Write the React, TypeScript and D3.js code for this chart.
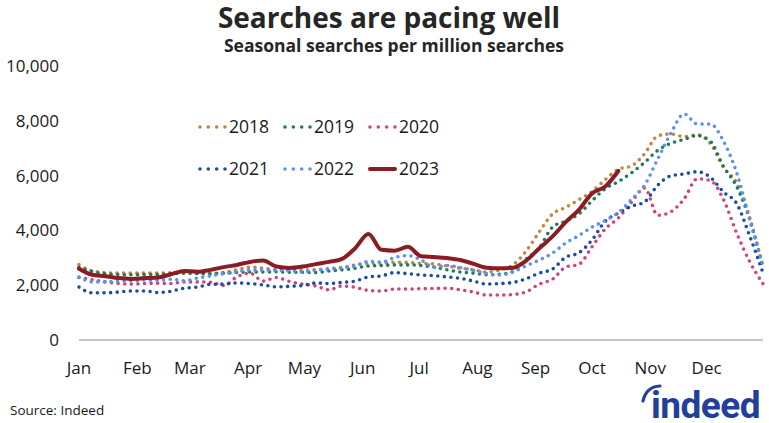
import * as React from 'react'
import * as d3 from 'd3'

// weekly values (seasonal searches per million searches), week i = day 7*i of the year
const weeks = d3.range(53)

const y2018 = [2750, 2520, 2460, 2440, 2440, 2440, 2440, 2450, 2450, 2430, 2430, 2460, 2560, 2660, 2620, 2560, 2540, 2550, 2560, 2600, 2650, 2740, 2800, 2800, 2840, 2830, 2800, 2780, 2700, 2620, 2560, 2480, 2560, 2750, 3250, 3950, 4600, 4840, 5120, 5420, 5850, 6230, 6350, 6800, 7450, 7520, 7420, 7490, 7170, 6300, 5730, 4450, 2650]
const y2019 = [2650, 2500, 2420, 2390, 2380, 2390, 2390, 2420, 2440, 2430, 2420, 2440, 2460, 2480, 2480, 2490, 2470, 2470, 2460, 2520, 2560, 2620, 2700, 2720, 2740, 2740, 2720, 2660, 2560, 2480, 2440, 2380, 2400, 2500, 2950, 3380, 4120, 4340, 4600, 5080, 5520, 5780, 6100, 6480, 6920, 7180, 7320, 7460, 7250, 6330, 5600, 4380, 2600]
const y2020 = [2280, 2200, 2120, 2060, 2040, 2060, 2070, 2060, 2120, 2120, 2110, 1990, 2300, 2440, 2150, 2280, 2140, 2040, 1970, 1830, 1970, 1920, 1810, 1790, 1860, 1860, 1870, 1880, 1890, 1830, 1750, 1640, 1640, 1660, 1760, 2040, 2220, 2660, 2760, 3400, 4050, 4450, 5030, 5550, 4550, 4680, 5150, 5880, 5820, 5120, 3900, 2850, 2050]
const y2021 = [1930, 1720, 1720, 1750, 1790, 1790, 1730, 1780, 1890, 1930, 2030, 2040, 2080, 2060, 2010, 1940, 1960, 1990, 2080, 2060, 2100, 2150, 2300, 2340, 2460, 2420, 2370, 2350, 2300, 2250, 2150, 2040, 2060, 2100, 2240, 2440, 2590, 3020, 3180, 3650, 4330, 4630, 4880, 5040, 5650, 5990, 6060, 6140, 5940, 5400, 4980, 3780, 2450]
const y2022 = [2300, 2120, 2120, 2150, 2160, 2190, 2170, 2220, 2160, 2260, 2340, 2420, 2490, 2550, 2550, 2550, 2530, 2480, 2550, 2590, 2630, 2700, 2870, 2840, 3010, 3080, 2920, 2650, 2720, 2640, 2540, 2420, 2370, 2480, 2710, 2920, 3170, 3540, 3810, 4120, 4360, 4650, 5130, 5650, 6610, 7550, 8250, 7880, 7880, 7250, 6100, 4380, 2700]
const y2023 = [2600, 2380, 2330, 2260, 2230, 2260, 2280, 2400, 2520, 2490, 2560, 2660, 2740, 2850, 2900, 2680, 2630, 2680, 2770, 2850, 2960, 3350, 3870, 3290, 3260, 3400, 3060, 3030, 2990, 2920, 2780, 2640, 2620, 2640, 2900, 3350, 3780, 4300, 4750, 5350, 5600, 6170]

const seriesNames = ['2018', '2019', '2020', '2021', '2022', '2023']
const seriesValues = [y2018, y2019, y2020, y2021, y2022, y2023]
const seriesColors = ['#c2853d', '#1f7a5c', '#d4407e', '#1a4e9e', '#5b91f0', '#8c1c24']

const monthLabels = ['Jan', 'Feb', 'Mar', 'Apr', 'May', 'Jun', 'Jul', 'Aug', 'Sep', 'Oct', 'Nov', 'Dec']
const monthStarts = [0, 31, 59, 90, 120, 151, 181, 212, 243, 273, 304, 334]
const yTicks = [0, 2000, 4000, 6000, 8000, 10000]

const W = 769
const H = 423
const font = '"Open Sans", "Noto Sans", sans-serif'

export default function App() {
    const x = d3.scaleLinear().domain([0, 364]).range([79, 763])
    const y = d3.scaleLinear().domain([0, 10000]).range([340, 66])
    const fmt = d3.format(',')

    const line = d3.line<number>()
        .x((_, i) => x(weeks[i] * 7))
        .y((d) => y(d))
        .curve(d3.curveMonotoneX)

    return (
        <div style={{ position: 'absolute', left: 0, top: 0 }}>
            <svg width={W} height={H} style={{ display: 'block', fontFamily: font }}>
                <rect width={W} height={H} fill='#fff' />

                <text x={389} y={28} textAnchor='middle' fontSize={28} fontWeight={700} fill='#262626'>
                    Searches are pacing well
                </text>
                <text x={394} y={52} textAnchor='middle' fontSize={17.5} fontWeight={700} fill='#262626'>
                    Seasonal searches per million searches
                </text>

                {/* y axis labels */}
                {yTicks.map(t => (
                    <text key={t} x={59} y={y(t)} dy='0.35em' textAnchor='end' fontSize={17} fill='#1a1a1a'>
                        {fmt(t)}
                    </text>
                ))}

                {/* zero line */}
                <line x1={x(0)} x2={x(364)} y1={y(0)} y2={y(0)} stroke='#8a8a8a' strokeWidth={1.2} />

                {/* x axis labels */}
                {monthLabels.map((m, i) => (
                    <text key={m} x={x(monthStarts[i])} y={374} textAnchor='middle' fontSize={17} fill='#1a1a1a'>
                        {m}
                    </text>
                ))}

                {/* series */}
                {seriesValues.map((vals, i) => {
                    const solid = seriesNames[i] === '2023'
                    return (
                        <path
                            key={seriesNames[i]}
                            d={line(vals) || ''}
                            fill='none'
                            stroke={seriesColors[i]}
                            strokeWidth={solid ? 4 : 3.6}
                            strokeLinecap='round'
                            strokeLinejoin='round'
                            strokeDasharray={solid ? undefined : '0 6.6'}
                        />
                    )
                })}

                {/* legend */}
                {seriesNames.map((name, i) => {
                    const col = i % 3
                    const row = Math.floor(i / 3)
                    const lx = 200 + col * 85
                    const ly = 127 + row * 42
                    const solid = name === '2023'
                    return (
                        <g key={name}>
                            <line
                                x1={lx} x2={lx + 25} y1={ly} y2={ly}
                                stroke={seriesColors[i]}
                                strokeWidth={solid ? 4 : 3.6}
                                strokeLinecap='round'
                                strokeDasharray={solid ? undefined : '0 8.33'}
                            />
                            <text x={lx + 29} y={ly} dy='0.36em' fontSize={17.5} fill='#1a1a1a'>{name}</text>
                        </g>
                    )
                })}

                <text x={10} y={415} fontSize={13.5} fill='#1a1a1a'>Source: Indeed</text>

                {/* indeed logo */}
                <g fill='#22409a'>
                    <path d='M643,401 C645,392 651,386.5 660,386' fill='none' stroke='#22409a' strokeWidth={3.2} strokeLinecap='round' />
                    <text x={651} y={418} fontSize={37} fontWeight={700} fontFamily='Roboto, sans-serif' letterSpacing={-0.5}>indeed</text>
                </g>
            </svg>
        </div>
    )
}
